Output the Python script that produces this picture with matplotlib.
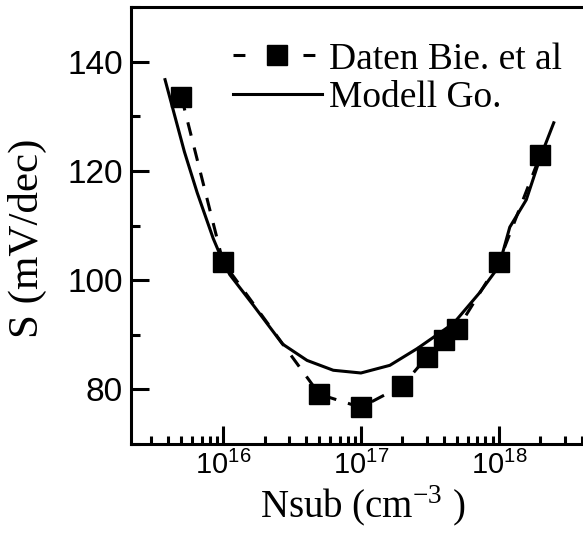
import matplotlib
matplotlib.use("Agg")
import matplotlib.pyplot as plt
from matplotlib.lines import Line2D
from matplotlib.ticker import MultipleLocator, LogLocator, NullFormatter

# measured data (Daten Bie. et al)
n_data = [5e15, 1e16, 5e16, 1e17, 2e17, 3e17, 4e17, 5e17, 1e18, 2e18]
s_data = [133.5, 103.3, 79.1, 76.7, 80.7, 85.9, 89.0, 91.0, 103.3, 122.9]

# model curve (Modell Go.)
n_model = [3.8e15, 5.25e15, 6.5e15, 8.5e15, 1.0e16, 1.12e16, 1.66e16, 2.7e16,
           4.07e16, 6.3e16, 1.0e17, 1.62e17, 2.57e17, 4.7e17, 7.2e17, 1.0e18,
           1.2e18, 1.58e18, 2.0e18, 2.5e18]
s_model = [136.7, 123.5, 116.0, 107.6, 103.4, 101.0, 95.4, 88.3,
           85.3, 83.5, 83.0, 84.4, 87.5, 92.1, 97.6, 102.5,
           109.7, 114.7, 122.5, 128.8]

serif = ["Liberation Serif", "DejaVu Serif"]
sans = ["Liberation Sans", "DejaVu Sans"]
plt.rcParams["font.family"] = sans

fig = plt.figure(figsize=(5.83, 5.36), dpi=100)
ax = fig.add_axes([131 / 583, 1 - 444 / 536, 1 - 131 / 583, (444 - 7) / 536])

lw = 2.2
ax.plot(n_model, s_model, color="black", lw=lw, zorder=2)
ax.plot(n_data, s_data, color="black", lw=lw, dashes=(4.5, 4), marker="s",
        markersize=14, zorder=3)

ax.set_xscale("log")
ax.set_xlim(10 ** 15.333, 10 ** 18.61)
ax.set_ylim(70, 150)
ax.set_yticks([80, 100, 120, 140])
ax.yaxis.set_minor_locator(MultipleLocator(10))
ax.xaxis.set_major_locator(LogLocator(base=10, numticks=10))
ax.xaxis.set_minor_locator(LogLocator(base=10, subs=range(2, 10), numticks=20))
ax.xaxis.set_minor_formatter(NullFormatter())

for side in ["left", "bottom", "top"]:
    ax.spines[side].set_linewidth(lw)
ax.spines["right"].set_visible(False)

ax.tick_params(which="both", direction="in", top=False, right=False, width=lw)
ax.tick_params(axis="y", which="major", length=13, pad=6, labelsize=24)
ax.tick_params(axis="y", which="minor", length=6.5)
ax.tick_params(axis="x", which="major", length=13, pad=5, labelsize=21)
ax.tick_params(axis="x", which="minor", length=6)

ax.set_ylabel("S (mV/dec)", family=serif, fontsize=31)
ax.yaxis.set_label_coords(-0.186, 0.471)
ax.set_xlabel(r"Nsub (cm$^{\mathdefault{-3}}$ )", family=serif, fontsize=28)
ax.xaxis.set_label_coords(0.513, -0.092)

h_data = Line2D([], [], color="black", lw=lw, dashes=(3.9, 19), marker="s",
                markersize=14)
h_model = Line2D([], [], color="black", lw=lw)
ax.legend([h_data, h_model], ["Daten Bie. et al", "Modell Go."],
          prop={"family": serif, "size": 27}, frameon=False, loc="upper left",
          bbox_to_anchor=(233 / 583, 1 - 42 / 536), bbox_transform=fig.transFigure,
          borderpad=0, borderaxespad=0, handlelength=2.37, handletextpad=0.19,
          labelspacing=0.1, numpoints=1)

fig.savefig("out.png", dpi=100)
